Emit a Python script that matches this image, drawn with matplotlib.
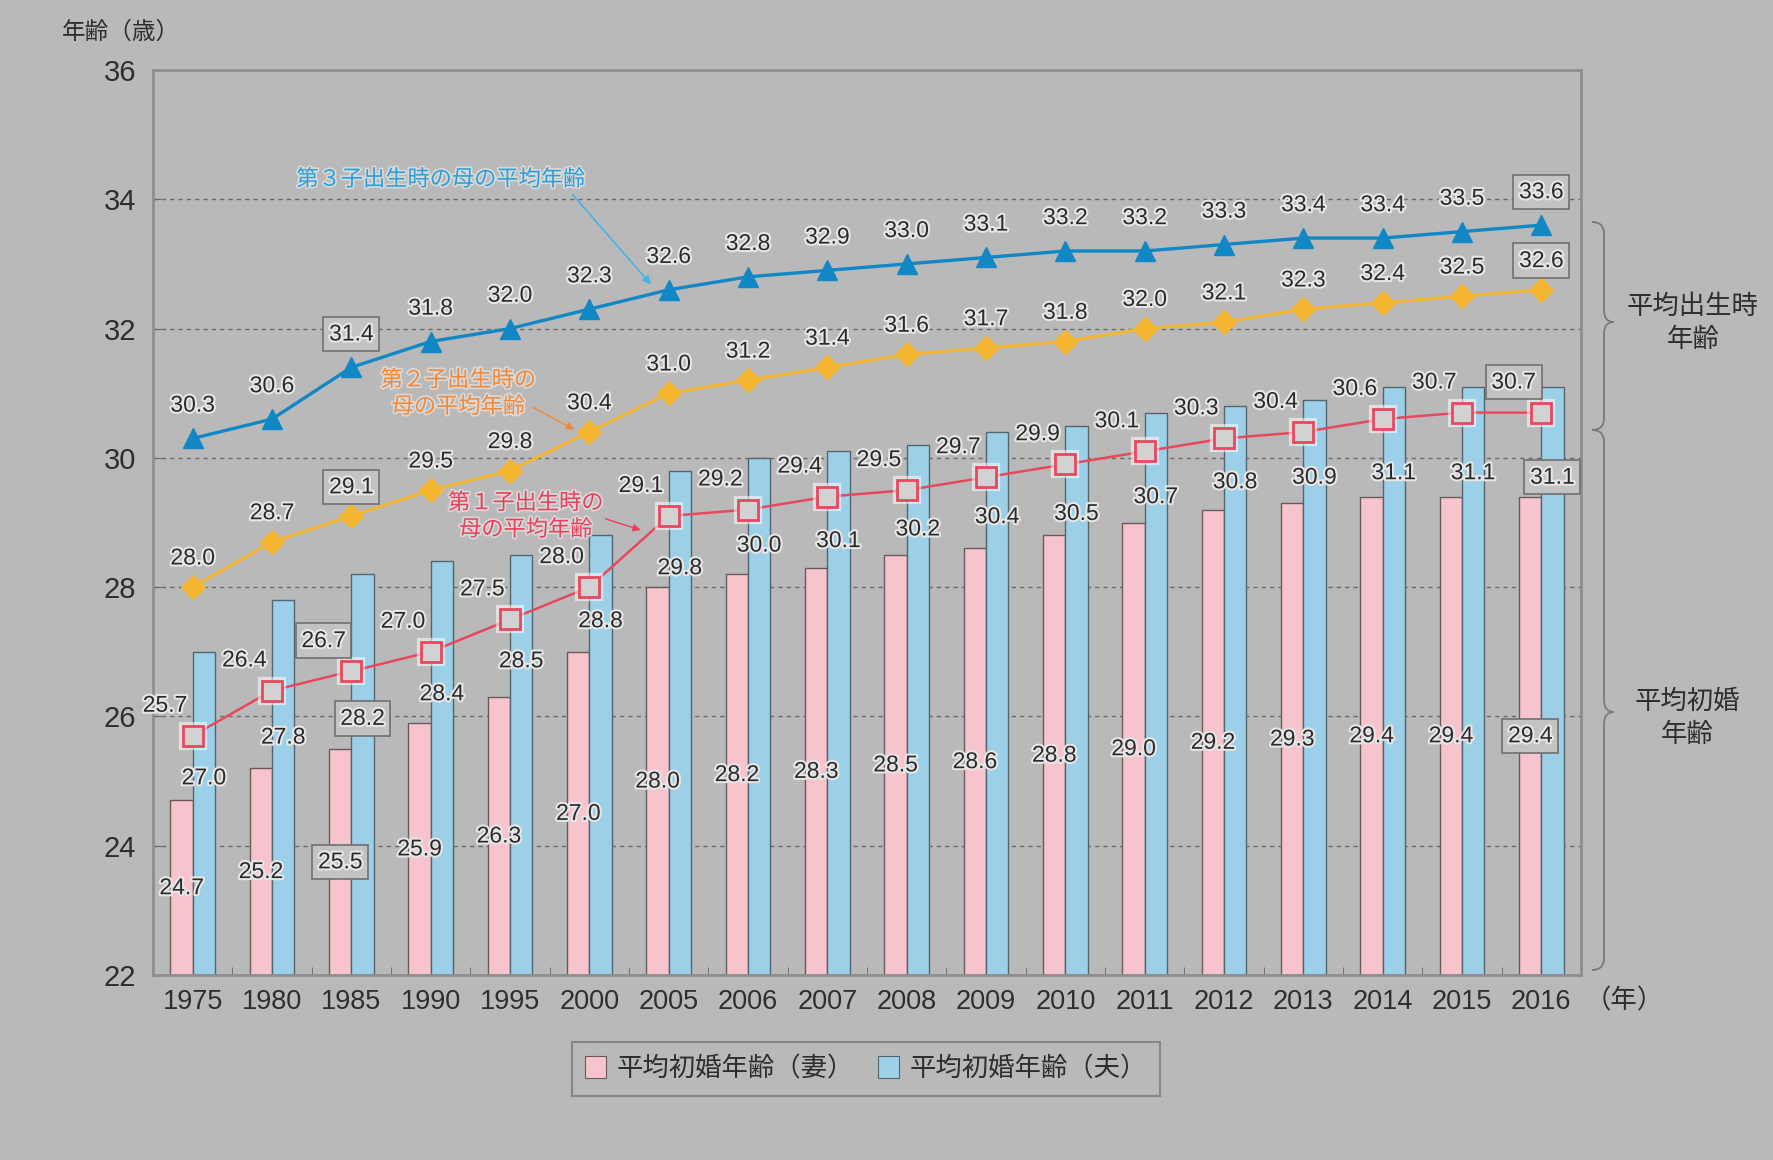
import matplotlib
matplotlib.use("Agg")
import matplotlib.pyplot as plt
import matplotlib.patheffects as pe
from matplotlib.patches import Patch, PathPatch
from matplotlib.path import Path
import numpy as np

plt.rcParams['font.family'] = ['Noto Sans CJK JP', 'DejaVu Sans']

# ---------------- data ----------------
years = ["1975", "1980", "1985", "1990", "1995", "2000", "2005", "2006", "2007",
         "2008", "2009", "2010", "2011", "2012", "2013", "2014", "2015", "2016"]
wife_first_marriage = [24.7, 25.2, 25.5, 25.9, 26.3, 27.0, 28.0, 28.2, 28.3,
                       28.5, 28.6, 28.8, 29.0, 29.2, 29.3, 29.4, 29.4, 29.4]
husband_first_marriage = [27.0, 27.8, 28.2, 28.4, 28.5, 28.8, 29.8, 30.0, 30.1,
                          30.2, 30.4, 30.5, 30.7, 30.8, 30.9, 31.1, 31.1, 31.1]
mother_age_1st = [25.7, 26.4, 26.7, 27.0, 27.5, 28.0, 29.1, 29.2, 29.4,
                  29.5, 29.7, 29.9, 30.1, 30.3, 30.4, 30.6, 30.7, 30.7]
mother_age_2nd = [28.0, 28.7, 29.1, 29.5, 29.8, 30.4, 31.0, 31.2, 31.4,
                  31.6, 31.7, 31.8, 32.0, 32.1, 32.3, 32.4, 32.5, 32.6]
mother_age_3rd = [30.3, 30.6, 31.4, 31.8, 32.0, 32.3, 32.6, 32.8, 32.9,
                  33.0, 33.1, 33.2, 33.2, 33.3, 33.4, 33.4, 33.5, 33.6]
yticks = [22, 24, 26, 28, 30, 32, 34, 36]

# label placement (how far below the bar top each husband label sits, in axis units)
husband_label_drop = [1.95, 2.12, 2.23, 2.05, 1.64, 1.32, 1.5, 1.35, 1.38,
                      1.3, 1.31, 1.36, 1.3, 1.17, 1.2, 1.33, 1.33, 1.4]
boxed = {2, 17}

W, H = 1773, 1160
BG = '#b9b9b9'
fig = plt.figure(figsize=(W / 100, H / 100), dpi=100, facecolor=BG)
ax = fig.add_axes([153 / W, 1 - 975 / H, 1428 / W, 905 / H])
ax.set_facecolor('none')

x = np.arange(len(years))
bw = 0.28
pink = '#f7c4cd'
blue = '#9ccfe8'
ax.bar(x - bw / 2, [v - 22 for v in wife_first_marriage], bw, bottom=22,
       color=pink, edgecolor='#6a5a5c', linewidth=1.0, zorder=2)
ax.bar(x + bw / 2, [v - 22 for v in husband_first_marriage], bw, bottom=22,
       color=blue, edgecolor='#55656e', linewidth=1.0, zorder=2)

c3 = '#1287c5'
c2 = '#f5b731'
c1 = '#e8485e'
ax.plot(x, mother_age_3rd, color=c3, lw=2.4, marker='^', ms=14,
        markeredgecolor=c3, zorder=4)
ax.plot(x, mother_age_2nd, color=c2, lw=2.2, marker='D', ms=12,
        markeredgecolor=c2, zorder=4)
ax.plot(x, mother_age_1st, color=c1, lw=1.8, zorder=4)
ax.plot(x, mother_age_1st, ls='none', marker='s', ms=16, mfc='none',
        mec='white', mew=4.5, alpha=0.55, zorder=5)
ax.plot(x, mother_age_1st, ls='none', marker='s', ms=14, mfc='#d2d2d2',
        mec=c1, mew=2.0, zorder=6)

ax.set_xlim(-0.5, len(years) - 0.5)
ax.set_ylim(22, 36)
ax.set_yticks(yticks)
ax.set_yticklabels([str(t) for t in yticks], fontsize=21, color='#2e2e2e',
                   family=['Liberation Sans', 'DejaVu Sans'])
ax.set_xticks(x)
ax.set_xticklabels(years, fontsize=19.5, color='#2e2e2e',
                   family=['Liberation Sans', 'DejaVu Sans'])
ax.set_xticks(np.arange(len(years) - 1) + 0.5, minor=True)
ax.tick_params(axis='x', which='major', length=0, pad=10)
ax.tick_params(axis='x', which='minor', length=6, direction='in', color='#666')
ax.tick_params(axis='y', length=6, direction='in', color='#666', pad=12)
for t in yticks[1:-1]:
    ax.axhline(t, color='#6a6a6a', lw=1.0, ls=(0, (3, 3)), zorder=1)
for s in ax.spines.values():
    s.set_color('#8e8e8e')
    s.set_linewidth(2.0)

num_font = dict(fontsize=16.5, color='#2a2a2a',
                family=['Liberation Sans', 'DejaVu Sans'],
                path_effects=[pe.withStroke(linewidth=3, foreground='#e6e6e6')])
box = dict(boxstyle='square,pad=0.25', fc='#c3c3c3', ec='#707070', lw=1.2)


def lab(xx, yy, s, i, dx=0, dy=0):
    kw = dict(num_font)
    if i in boxed:
        kw['bbox'] = box
    ax.annotate(s, (xx, yy), xytext=(dx, dy), textcoords='offset points',
                ha='center', va='center', zorder=8, **kw)


for i in range(len(years)):
    lab(x[i], mother_age_3rd[i], f"{mother_age_3rd[i]:.1f}", i, 0, 24)
    lab(x[i], mother_age_2nd[i], f"{mother_age_2nd[i]:.1f}", i, 0, 21)
    lab(x[i], mother_age_1st[i], f"{mother_age_1st[i]:.1f}", i, -20, 22)
    lab(x[i] - bw / 2, (22 + wife_first_marriage[i]) / 2,
        f"{wife_first_marriage[i]:.1f}", i)
    lab(x[i] + bw / 2, husband_first_marriage[i] - husband_label_drop[i],
        f"{husband_first_marriage[i]:.1f}", i)

# series annotations
ann_font = dict(fontsize=16, ha='center', va='center', zorder=9,
                path_effects=[pe.withStroke(linewidth=2.5, foreground='#d8d8d8')])
ax.text(3.13, 34.31, "第３子出生時の母の平均年齢", color='#2aa0d8', **ann_font)
ax.annotate('', xy=(5.8, 32.65), xytext=(4.77, 34.1),
            arrowprops=dict(arrowstyle='-|>', color='#45b4e4', lw=1.2,
                            mutation_scale=12), zorder=9)
ax.text(3.35, 31.0, "第２子出生時の\n母の平均年齢", color='#f08a3a',
        linespacing=1.2, **ann_font)
ax.annotate('', xy=(4.84, 30.42), xytext=(4.26, 30.8),
            arrowprops=dict(arrowstyle='-|>', color='#f08a3a', lw=1.0,
                            mutation_scale=11), zorder=9)
ax.text(4.2, 29.1, "第１子出生時の\n母の平均年齢", color='#e8405a',
        linespacing=1.2, **ann_font)
ax.annotate('', xy=(5.68, 28.87), xytext=(5.17, 29.07),
            arrowprops=dict(arrowstyle='-|>', color='#e8405a', lw=1.0,
                            mutation_scale=11), zorder=9)

# figure texts
fig.text(121 / W, 1 - 32 / H, "年齢（歳）", fontsize=17, color='#2e2e2e',
         ha='center', va='center')
fig.text(1585 / W, 1 - 1001 / H, "（年）", fontsize=19, color='#2e2e2e',
         ha='left', va='center')
fig.text(1693 / W, 1 - 323 / H, "平均出生時\n年齢", fontsize=19, color='#2e2e2e',
         ha='center', va='center', linespacing=1.25)
fig.text(1687 / W, 1 - 718 / H, "平均初婚\n年齢", fontsize=19, color='#2e2e2e',
         ha='center', va='center', linespacing=1.25)


def P(px, py):
    return (px / W, 1 - py / H)


def brace(xp, y0, y1, ym, r=12):
    verts = [P(xp - r, y0), P(xp, y0), P(xp, y0 + r),
             P(xp, ym - r), P(xp, ym), P(xp + r * 0.8, ym),
             P(xp, ym), P(xp, ym + r),
             P(xp, y1 - r), P(xp, y1), P(xp - r, y1)]
    codes = [Path.MOVETO, Path.CURVE3, Path.CURVE3,
             Path.LINETO, Path.CURVE3, Path.CURVE3,
             Path.CURVE3, Path.CURVE3,
             Path.LINETO, Path.CURVE3, Path.CURVE3]
    fig.add_artist(PathPatch(Path(verts, codes), fc='none', ec='#7a7a7a',
                             lw=1.3, transform=fig.transFigure))


brace(1604, 222, 430, 322)
brace(1604, 430, 970, 712)

handles = [Patch(facecolor=pink, edgecolor='#6a5a5c', lw=0.8, label="平均初婚年齢（妻）"),
           Patch(facecolor=blue, edgecolor='#55656e', lw=0.8, label="平均初婚年齢（夫）")]
leg = fig.legend(handles=handles, loc='center', bbox_to_anchor=(866 / W, 1 - 1069 / H),
                 ncol=2, fontsize=19, frameon=True, fancybox=False,
                 handlelength=0.8, handleheight=0.9, handletextpad=0.4,
                 columnspacing=0.9, borderpad=0.5)
leg.get_frame().set_edgecolor('#7a7a7a')
leg.get_frame().set_facecolor('none')
leg.get_frame().set_linewidth(1.5)
for t in leg.get_texts():
    t.set_color('#2e2e2e')

fig.savefig("out.png", dpi=100, facecolor=BG)
